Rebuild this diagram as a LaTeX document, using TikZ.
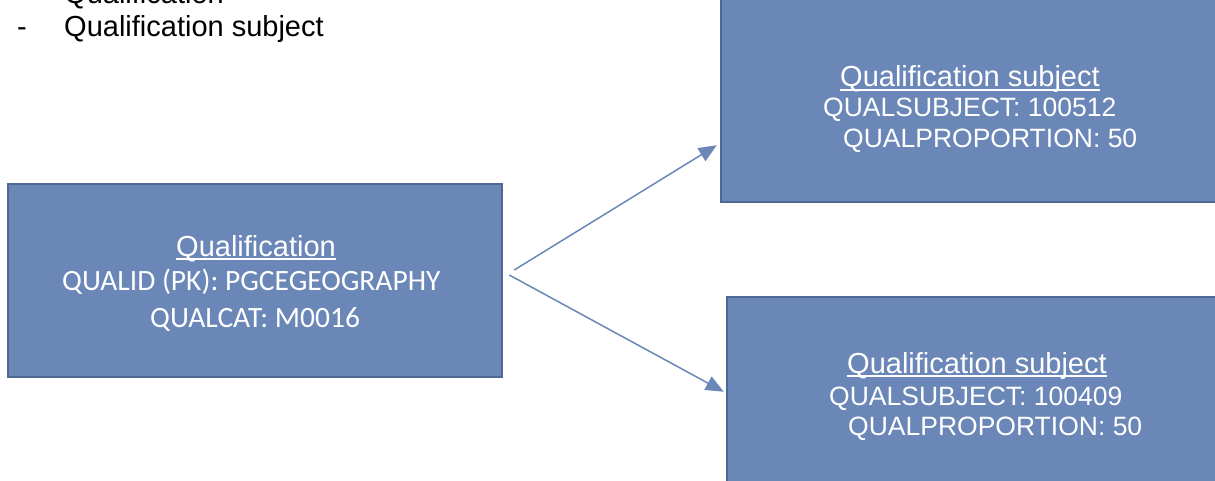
\documentclass[tikz,border=0pt]{standalone}
\usepackage{fontspec}
\setmainfont{Liberation Sans}
\newfontfamily\carl{Carlito}
\usetikzlibrary{arrows.meta}
\definecolor{boxfill}{HTML}{6A87B8}
\definecolor{boxline}{HTML}{4E6894}
\definecolor{arrowc}{HTML}{6A87B8}
\tikzset{
  entity/.style={draw=boxline, line width=2.5pt, fill=boxfill, inner sep=0pt, rectangle},
  title/.style={text=white, inner sep=0pt, anchor=base west, font=\fontsize{29}{30}\selectfont},
  body/.style={text=white, inner sep=0pt, anchor=base west, font=\fontsize{26.5}{28}\selectfont},
  cbody/.style={text=white, inner sep=0pt, anchor=base west, font=\carl\fontsize{29.5}{30}\selectfont},
  plain/.style={text=black, inner sep=0pt, anchor=base west, font=\fontsize{29}{30}\selectfont},
  uline/.style={draw=white, line width=2pt},
  conn/.style={draw=arrowc, line width=1.5pt, -{Triangle[length=18pt,width=15pt]}}
}
\begin{document}
\begin{tikzpicture}[x=1pt,y=-1pt]
\useasboundingbox (0,0) rectangle (1215,481);
\clip (0,0) rectangle (1215,481);
% top-left text
\node[plain] (h1) at (64,4) {Qualification};
\node[plain] (d2) at (17,37) {-};
\node[plain] (h2) at (64,37) {Qualification subject};
% boxes
\node[entity, minimum width=494pt, minimum height=193pt] (L) at (255,280.5) {};
\node[entity, minimum width=501pt, minimum height=222pt] (T) at (971.5,91) {};
\node[entity, minimum width=495pt, minimum height=223pt] (B) at (974.5,408.5) {};
% left box text
\node[title] (Lt) at (176,256) {Qualification};
\draw[uline] ([shift={(0,3)}]Lt.base west) -- ([shift={(0,3)}]Lt.base east);
\node[cbody] (L2) at (62,290) {QUALID (PK): PGCEGEOGRAPHY};
\node[cbody] (L3) at (150,327) {QUALCAT: M0016};
% top box text
\node[title] (Tt) at (840,87) {Qualification subject};
\draw[uline] ([shift={(0,3)}]Tt.base west) -- ([shift={(0,3)}]Tt.base east);
\node[body] (T2) at (823,117) {QUALSUBJECT: 100512};
\node[body] (T3) at (843,148) {QUALPROPORTION: 50};
% bottom box text
\node[title] (Bt) at (847,373) {Qualification subject};
\draw[uline] ([shift={(0,3)}]Bt.base west) -- ([shift={(0,3)}]Bt.base east);
\node[body] (B2) at (829,405) {QUALSUBJECT: 100409};
\node[body] (B3) at (848,435) {QUALPROPORTION: 50};
% connectors
\draw[conn] ([shift={(11,-10.5)}]L.east) -- ([shift={(-3,-58)}]T.south west);
\draw[conn] ([shift={(6,-5.5)}]L.east) -- ([shift={(-2,96)}]B.north west);
\end{tikzpicture}
\end{document}
